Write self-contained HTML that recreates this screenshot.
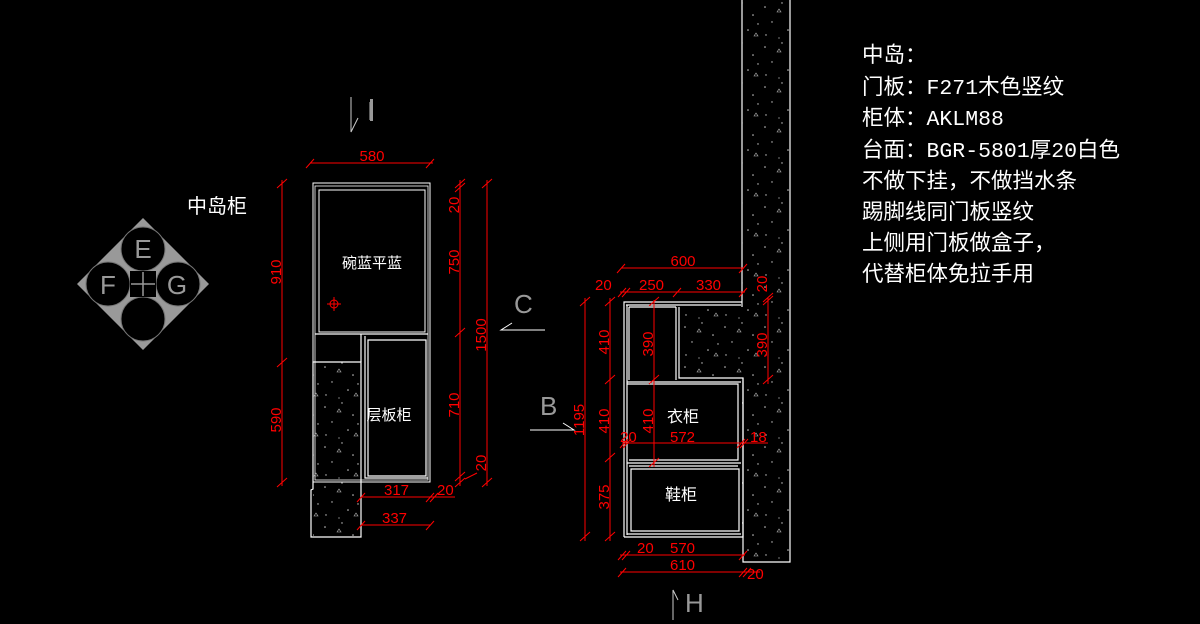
<!DOCTYPE html>
<html><head><meta charset="utf-8"><style>
html,body{margin:0;padding:0;background:#000;width:1200px;height:624px;overflow:hidden}
svg{display:block}
.r{stroke:#f00;stroke-width:1;fill:none}
.rt{fill:#f00;font-family:"Liberation Sans",sans-serif;font-size:15px}
.w{stroke:#fff;stroke-width:1.2;fill:none}
.wt{fill:#fff;font-family:"Liberation Sans","Noto Sans CJK SC",sans-serif}
.nt{fill:#fff;font-family:"Liberation Mono","Noto Sans CJK SC",monospace}
.g{fill:#999;font-family:"Liberation Sans",sans-serif;font-size:26px}
</style></head><body>
<svg width="1200" height="624" viewBox="0 0 1200 624">
<defs>
<pattern id="cc" width="40" height="40" patternUnits="userSpaceOnUse">
<circle cx="5" cy="7" r="0.8" fill="#ccc"/><circle cx="22" cy="3" r="0.7" fill="#ccc"/>
<circle cx="33" cy="15" r="0.8" fill="#ccc"/><circle cx="12" cy="22" r="0.7" fill="#ccc"/>
<circle cx="28" cy="30" r="0.8" fill="#ccc"/><circle cx="6" cy="35" r="0.7" fill="#ccc"/>
<path d="M17 12 l2 -3 l2 3z" fill="none" stroke="#bbb" stroke-width="0.6"/>
<path d="M34 36 l2 -3 l2 3z" fill="none" stroke="#bbb" stroke-width="0.6"/>
<circle cx="38" cy="24" r="0.7" fill="#ccc"/><circle cx="19" cy="38" r="0.6" fill="#ccc"/>
</pattern>
</defs>

<!-- wall -->
<rect x="742" y="-2" width="48" height="564" fill="url(#cc)"/>
<path class="w" d="M742 0 V307 M790 0 V562 H743 V378"/>
<rect x="679" y="307" width="63" height="71" fill="url(#cc)"/>

<!-- compass -->
<polygon points="143,218 209,284 143,350 77,284" fill="#999"/>
<g fill="#000" stroke="#777" stroke-width="1">
<circle cx="143" cy="249" r="22"/><circle cx="108" cy="284" r="22"/>
<circle cx="178" cy="284" r="22"/><circle cx="143" cy="319" r="22"/>
</g>
<rect x="130" y="271" width="26" height="26" fill="#000"/>
<path d="M143 272 V296 M131 284 H155" stroke="#999" stroke-width="1.5"/>
<text class="g" x="143" y="258" text-anchor="middle">E</text>
<text class="g" x="108" y="294" text-anchor="middle">F</text>
<text class="g" x="177" y="294" text-anchor="middle">G</text>
<text class="wt" x="187" y="213" font-size="20">中岛柜</text>

<!-- section marks -->
<text class="g" x="367" y="120" font-size="24">I</text>
<rect x="370" y="99" width="3" height="22" fill="#999"/>
<path d="M351 97 V132 L358 118" stroke="#ccc" fill="none"/>
<text class="g" x="514" y="313">C</text>
<path d="M545 330 H501 L512 323" stroke="#fff" fill="none"/>
<text class="g" x="540" y="415">B</text>
<path d="M530 430 H574 L563 423" stroke="#fff" fill="none"/>
<text class="g" x="685" y="612" font-size="24">H</text>
<path d="M673 620 V590 L678 600" stroke="#ccc" fill="none"/>

<!-- left cabinet -->
<rect x="313" y="183" width="117" height="299" fill="none" stroke="#fff"/>
<rect x="315" y="186" width="113" height="294" fill="none" stroke="#fff" stroke-width="0.8"/>
<rect x="319" y="190" width="106" height="142" fill="none" stroke="#fff"/>
<path class="w" d="M315 334 H428 M361 334 V362 M365 336 V478 H428 M368 340 H426 V476 H368 Z"/>
<rect x="313" y="362" width="48" height="176" fill="url(#cc)"/>
<path class="w" d="M313 362 H361 V537 H311 V490 L313 489 Z"/>
<text class="wt" x="372" y="268" font-size="15" text-anchor="middle">碗蓝平蓝</text>
<text class="wt" x="389" y="420" font-size="15" text-anchor="middle">层板柜</text>
<g class="r"><circle cx="334" cy="304" r="4"/><path d="M327 304 H341 M334 297 V311"/></g>

<!-- left dims -->
<g class="r">
<path d="M310 163 H433 M306 168 l8 -9 M426 168 l8 -9"/>
<path d="M282 180 V486 M277 188 l10 -9 M277 367 l10 -9 M277 487 l10 -9"/>
<path d="M460 180 V486 M455 188 l10 -9 M455 192 l10 -9 M455 337 l10 -9 M455 481 l10 -9 M455 487 l10 -9"/>
<path d="M487 180 V486 M482 188 l10 -9 M482 487 l10 -9 M465 479 l12 -6"/>
<path d="M361 497 H455 M357 502 l8 -9 M426 502 l8 -9 M430 502 l8 -9"/>
<path d="M361 525 H430 M357 530 l8 -9 M426 530 l8 -9"/>
</g>
<g class="rt">
<text x="372" y="161" text-anchor="middle">580</text>
<text transform="translate(281,272) rotate(-90)" text-anchor="middle">910</text>
<text transform="translate(281,420) rotate(-90)" text-anchor="middle">590</text>
<text transform="translate(459,205) rotate(-90)" text-anchor="middle">20</text>
<text transform="translate(459,262) rotate(-90)" text-anchor="middle">750</text>
<text transform="translate(459,405) rotate(-90)" text-anchor="middle">710</text>
<text transform="translate(486,463) rotate(-90)" text-anchor="middle">20</text>
<text transform="translate(486,335) rotate(-90)" text-anchor="middle">1500</text>
<text x="384" y="495">317</text><text x="437" y="495">20</text>
<text x="382" y="523">337</text>
</g>

<!-- right cabinet -->
<path class="w" d="M624 537 V302 H742 M626 305 H741 M624 537 H743 V378 H679 V307 M676 307 V380 M627 305 V535 M629 307 V380 M629 307 H676 M627 382 H741 M627 384 H738 V460 H629 M627 463 H741 M629 466 H738 M631 469 H739 V531 H631 Z M627 534 H741"/>
<text class="wt" x="683" y="422" font-size="16" text-anchor="middle">衣柜</text>
<text class="wt" x="681" y="500" font-size="16" text-anchor="middle">鞋柜</text>

<!-- right dims -->
<g class="r">
<path d="M621 268 H743 M617 273 l8 -9 M739 273 l8 -9"/>
<path d="M620 292 H745 M618 297 l8 -9 M622 297 l8 -9 M673 297 l8 -9 M739 297 l8 -9"/>
<path d="M585 298 V541 M580 306 l10 -9 M580 541 l10 -9"/>
<path d="M610 298 V541 M605 306 l10 -9 M605 384 l10 -9 M605 462 l10 -9 M605 541 l10 -9"/>
<path d="M654 300 V467 M649 306 l10 -9 M649 384 l10 -9 M649 467 l10 -9"/>
<path d="M768 298 V384 M763 302 l10 -9 M763 305 l10 -9 M763 384 l10 -9"/>
<path d="M622 443 H768 M620 448 l8 -9 M623 448 l8 -9 M737 448 l8 -9 M740 448 l8 -9"/>
<path d="M620 555 H745 M618 560 l8 -9 M622 560 l8 -9 M739 560 l8 -9"/>
<path d="M620 572 H760 M618 577 l8 -9 M739 577 l8 -9 M743 577 l8 -9"/>
</g>
<g class="rt">
<text x="683" y="266" text-anchor="middle">600</text>
<text x="595" y="290">20</text><text x="639" y="290">250</text><text x="696" y="290">330</text>
<text transform="translate(584,420) rotate(-90)" text-anchor="middle">1195</text>
<text transform="translate(609,342) rotate(-90)" text-anchor="middle">410</text>
<text transform="translate(609,421) rotate(-90)" text-anchor="middle">410</text>
<text transform="translate(609,497) rotate(-90)" text-anchor="middle">375</text>
<text transform="translate(653,344) rotate(-90)" text-anchor="middle">390</text>
<text transform="translate(653,421) rotate(-90)" text-anchor="middle">410</text>
<text transform="translate(767,284) rotate(-90)" text-anchor="middle">20</text>
<text transform="translate(767,345) rotate(-90)" text-anchor="middle">390</text>
<text x="620" y="442">20</text><text x="670" y="442">572</text><text x="750" y="442">18</text>
<text x="637" y="553">20</text><text x="670" y="553">570</text>
<text x="670" y="570">610</text><text x="747" y="579">20</text>
</g>

<!-- notes -->
<g class="nt" font-size="21.5">
<text x="862" y="62">中岛：</text>
<text x="862" y="94">门板：F271木色竖纹</text>
<text x="862" y="125">柜体：AKLM88</text>
<text x="862" y="157">台面：BGR-5801厚20白色</text>
<text x="862" y="188">不做下挂，不做挡水条</text>
<text x="862" y="219">踢脚线同门板竖纹</text>
<text x="862" y="250">上侧用门板做盒子，</text>
<text x="862" y="281">代替柜体免拉手用</text>
</g>
</svg>
</body></html>
